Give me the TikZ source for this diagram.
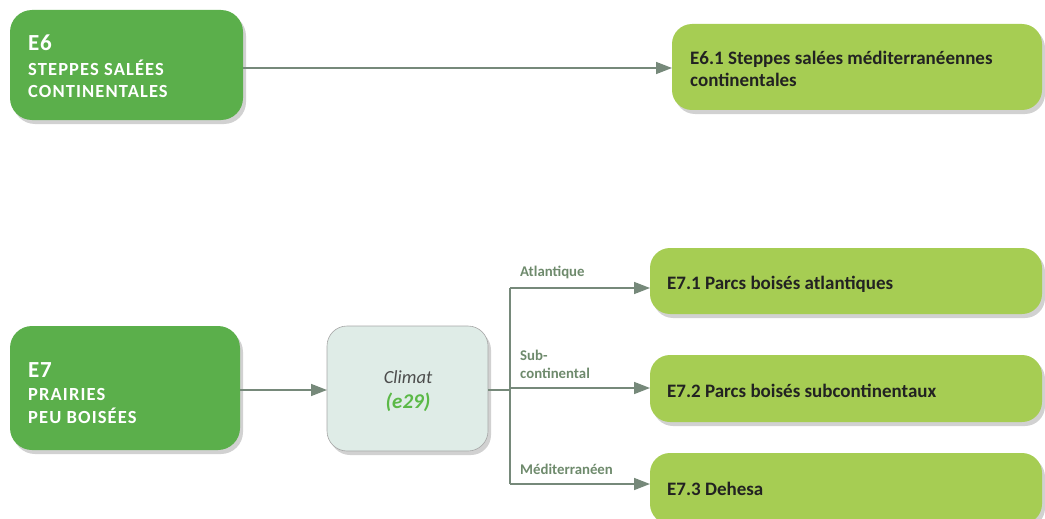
\documentclass[tikz,border=0pt]{standalone}
\usepackage{fontspec}
\setmainfont{Carlito}
\usetikzlibrary{shadows,arrows.meta}
\definecolor{darkgreen}{HTML}{5BAF4B}
\definecolor{lightgreen}{HTML}{A6CD53}
\definecolor{climfill}{HTML}{DFECE7}
\definecolor{linecol}{HTML}{76897A}
\definecolor{labcol}{HTML}{6E8A6C}
\definecolor{txtdark}{HTML}{222222}
\definecolor{climgreen}{HTML}{5BB947}
\begin{document}
\begin{tikzpicture}[x=1pt,y=-1pt,
  shadowed/.style={drop shadow={shadow xshift=3pt,shadow yshift=-4pt,opacity=0.3,fill=black!60}},
  mainbox/.style={rounded corners=22pt,fill=darkgreen,shadowed},
  subbox/.style={rounded corners=20pt,fill=lightgreen,shadowed},
  climbox/.style={rounded corners=20pt,fill=climfill,draw=gray!70,line width=0.6pt,shadowed},
  conn/.style={draw=linecol,line width=1.6pt},
  arr/.style={conn,-{Triangle[length=16pt,width=12pt]}},
  code/.style={anchor=base west,inner sep=0pt,text=white,font=\fontsize{23}{26}\selectfont\bfseries\addfontfeatures{LetterSpace=3}},
  caps/.style={anchor=base west,inner sep=0pt,text=white,font=\fontsize{18.5}{22}\selectfont\bfseries\addfontfeatures{LetterSpace=6}},
  subtxt/.style={anchor=base west,inner sep=0pt,text=txtdark,font=\fontsize{19}{24}\selectfont\bfseries},
  lab/.style={anchor=base west,inner sep=0pt,text=labcol,font=\fontsize{14.8}{18}\selectfont\bfseries}
]
\useasboundingbox (0,0) rectangle (1045,519);
% boxes
\path[mainbox] (10,10) rectangle (243,120);
\node[code] (e6a) at (28,51) {E6};
\node[caps] (e6b) at (28,76) {STEPPES SALÉES};
\node[caps] (e6c) at (28,98) {CONTINENTALES};
\coordinate (e6r) at (243,68);

\path[subbox] (672,24) rectangle (1042,110);
\node[subtxt] (e61a) at (690,65) {E6.1 Steppes salées méditerranéennes};
\node[subtxt] (e61b) at (690,87) {continentales};
\coordinate (e61l) at (672,68);

\path[mainbox] (10,326) rectangle (240,450);
\node[code] (e7a) at (28,377) {E7};
\node[caps] (e7b) at (28,400) {PRAIRIES};
\node[caps] (e7c) at (28,423) {PEU BOISÉES};
\coordinate (e7r) at (240,390);

\path[climbox] (327,326) rectangle (488,451);
\node[anchor=base,inner sep=0pt,text=black!70,font=\fontsize{18.5}{22}\selectfont\itshape] (clima) at (408,383) {Climat};
\node[anchor=base,inner sep=0pt,text=climgreen,font=\fontsize{21}{24}\selectfont\bfseries\itshape] (climb) at (408,408) {(e29)};
\coordinate (climl) at (327,390);
\coordinate (climr) at (488,390);

\path[subbox] (650,248) rectangle (1042,314);
\node[subtxt] (e71) at (667,289) {E7.1 Parcs boisés atlantiques};
\path[subbox] (650,355) rectangle (1042,422);
\node[subtxt] (e72) at (667,397) {E7.2 Parcs boisés subcontinentaux};
\path[subbox] (650,453) rectangle (1042,524);
\node[subtxt] (e73) at (667,495) {E7.3 Dehesa};

\coordinate (t1) at (650,288);
\coordinate (t2) at (650,388);
\coordinate (t3) at (650,484);
\coordinate (j) at (510,390);
\coordinate (j1) at (510,288);
\coordinate (j2) at (510,388);
\coordinate (j3) at (510,484);

% connectors
\draw[arr] (e6r) -- (e61l);
\draw[arr] (e7r) -- (climl);
\draw[conn] (climr) -- (j);
\draw[conn] (j1) -- (j3);
\draw[arr] (j1) -- (t1);
\draw[arr] (j2) -- (t2);
\draw[arr] (j3) -- (t3);

\node[lab] (la) at (520,276) {Atlantique};
\node[lab] (lb1) at (520,360) {Sub-};
\node[lab] (lb2) at (520,378) {continental};
\node[lab] (lc) at (520,474) {Méditerranéen};
\end{tikzpicture}
\end{document}
